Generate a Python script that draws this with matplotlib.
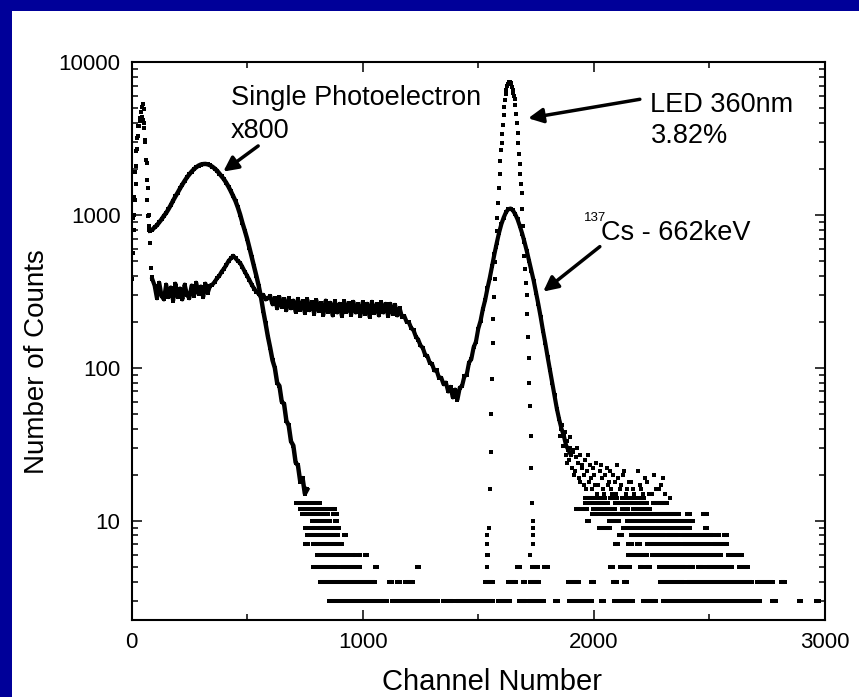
import numpy as np
import matplotlib.pyplot as plt
from matplotlib.patches import Rectangle
from matplotlib.ticker import LogLocator, FixedLocator, NullFormatter

plt.rcParams['font.family'] = ['Liberation Sans', 'DejaVu Sans']

# ----------------------------
# LED run: pedestal spike + single photoelectron bump (x800)
# ----------------------------
spike_ch = [5, 10, 15, 20, 25, 30, 35, 40, 45, 50, 53, 56, 59, 62, 65, 68, 71, 74, 77]
spike_counts = [950, 1300, 1900, 2600, 3200, 3800, 4300, 4700, 5100, 5300, 4900, 4000, 3100,
                2300, 1700, 1250, 980, 850, 800]

spe_ch = [80, 90, 100, 110, 120, 130, 140, 150, 160, 170, 180, 190, 200, 210, 220, 230, 240,
          250, 260, 270, 280, 290, 300, 310, 320, 330, 340, 350, 360, 370, 380, 390, 400,
          410, 420, 430, 440, 450, 460, 470, 480, 490, 500, 510, 520, 530, 540, 550, 560,
          570, 580, 590, 600, 610, 620, 630, 640, 650, 660, 670, 680, 690, 700, 710, 720,
          730, 740, 750, 760]
spe_counts = [790, 800, 830, 855, 895, 935, 985, 1030, 1090, 1160, 1240, 1320, 1400, 1490, 1580,
              1670, 1760, 1840, 1920, 1990, 2050, 2100, 2135, 2150, 2155, 2140, 2110, 2065,
              2010, 1945, 1865, 1785, 1710, 1620, 1525, 1425, 1325, 1230, 1120, 1005, 885,
              790, 700, 610, 530, 460, 400, 345, 290, 235, 195, 160, 135, 112, 100, 80, 76,
              60, 58, 45, 42, 33, 31, 24, 23, 18, 19, 15, 16]

# ----------------------------
# LED 360nm peak
# ----------------------------
led_ch = [1538, 1542, 1546, 1550, 1553, 1556, 1559, 1562, 1565, 1568, 1571, 1574, 1577, 1580,
          1583, 1586, 1589, 1592, 1595, 1598, 1601, 1604, 1607, 1610, 1613, 1616, 1619, 1622,
          1625, 1628, 1631, 1634, 1637, 1640, 1643, 1646, 1649, 1652, 1655, 1658, 1661, 1664,
          1667, 1670, 1673, 1676, 1679, 1682, 1685, 1688, 1691, 1694, 1697, 1700, 1703, 1706,
          1709, 1712, 1715, 1718, 1721, 1724, 1727, 1730, 1733, 1736]
led_counts = [4, 6, 9, 16, 28, 50, 85, 145, 210, 290, 380, 490, 620, 780, 960, 1200, 1500, 1850,
              2250, 2650, 2950, 3400, 3900, 4500, 5100, 5650, 6150, 6600, 6950, 7200, 7350, 7400,
              7400, 7300, 7150, 6900, 6600, 6300, 6000, 5700, 5200, 4600, 4000, 3450, 2950, 2500,
              2150, 1850, 1600, 1390, 1100, 850, 680, 540, 440, 360, 300, 225, 160, 115, 80, 56,
              36, 22, 13, 8]

# ----------------------------
# 137Cs - 662keV spectrum
# ----------------------------
cs_low_ch = [3, 6, 9, 12, 15, 18, 21, 24, 28, 32, 36, 40, 45, 50, 55, 60, 65, 70, 75, 80, 84, 88]
cs_low_counts = [380, 560, 800, 1000, 1250, 1600, 2100, 2700, 3300, 3800, 4100, 4300, 4400, 4200,
                 3700, 3000, 2200, 1500, 1000, 650, 450, 390]

cs_ch = np.arange(90, 1910, 10)
cs_counts = [380,
             345, 285, 360, 295, 280, 350, 290, 335, 275, 355, 290, 330, 280, 350, 300, 285,   # 100-250
             345, 295, 360, 305, 340, 290, 355, 310, 345,                                      # 260-340
             350, 365, 385, 400, 425, 445, 470, 500, 520, 540, 520, 500, 485, 455, 425, 400,   # 350-500
             375, 350, 330, 315, 305, 290, 300, 280, 285,                                      # 510-590
             295, 260, 285, 245, 290, 250, 280, 238, 285, 245, 275, 232, 282, 240, 272, 228,   # 600-750
             280, 238, 268, 226, 276, 235, 265, 222, 275, 232, 266, 220, 272, 230, 262, 218,   # 760-910
             272, 232, 264, 222, 270, 230, 260, 218, 268, 226, 262, 215, 270, 228, 260, 220,   # 920-1070
             268, 230, 262, 218, 262, 226, 258, 220, 245, 215, 218, 200, 198, 182, 176, 160,   # 1080-1230
             153, 140, 135, 122, 119, 108, 106, 96, 96, 86, 86, 78, 80, 70, 75, 64,            # 1240-1390
             72, 62, 74, 76, 88, 90, 108, 114, 136, 148, 180, 203, 242, 278, 332, 388,         # 1400-1550
             465, 555, 655, 765, 870, 960, 1040, 1090, 1100, 1070, 1010, 935, 845, 755, 665, 580,  # 1560-1710
             500, 430, 370, 310, 260, 215, 175, 145, 118, 97, 80, 66, 54, 46, 40, 36,          # 1720-1870
             31, 29, 27]

# scattered high-channel tail of the Cs spectrum
tail_ch = [1855, 1862, 1868, 1875, 1880, 1886, 1892, 1898, 1905, 1910, 1916, 1922, 1930, 1936,
           1942, 1950, 1956, 1962, 1970, 1978, 1985, 1992, 2000, 2010, 2018, 2025, 2035, 2045,
           2055, 2065, 2075, 2085, 2095, 2105, 2118, 2130, 2145, 2160, 2175, 2190, 2205, 2220,
           2240, 2260, 2280, 2300,
           1885, 1895, 1908, 1918, 1928, 1940, 1948, 1958, 1968, 1975, 1988, 1996, 2005, 2015,
           2030, 2040, 2050, 2060, 2070, 2080, 2090, 2100, 2112, 2125, 2138, 2150, 2168, 2182,
           2198, 2212, 2230, 2250, 2270, 2290, 2310, 2330]
tail_counts = [36, 42, 31, 38, 27, 33, 25, 30, 22, 28, 20, 26, 24, 19, 27, 22, 17, 25, 21, 18,
               23, 16, 20, 24, 17, 21, 19, 15, 22, 18, 16, 20, 15, 19, 17, 21, 16, 18, 15, 21,
               16, 19, 15, 20, 16, 19,
               24, 35, 29, 21, 30, 18, 23, 20, 16, 27, 19, 22, 17, 15, 23, 16, 20, 17, 21, 15,
               18, 23, 16, 20, 15, 18, 16, 14, 17, 15, 18, 15, 16, 17, 15, 14]

# runs of consecutive channels holding the same low count (count, first, last channel)
run_count = [3] * 16 + [4] * 16 + [5] * 18 + [6] * 9 + [7] * 10 + [8] * 10 + [9] * 7 \
    + [10] * 7 + [11] * 6 + [12] * 8 + [13] * 5 + [14] * 5
run_first = [853, 1125, 1349, 1403, 1587, 1678, 1716, 1832, 1894, 2031, 2086, 2211, 2299, 2769, 2887, 2962,
             815, 1115, 1147, 1183, 1529, 1630, 1695, 1724, 1889, 1986, 2084, 2131, 2286, 2401, 2705, 2809,
             786, 906, 1053, 1233, 1536, 1666, 1731, 1784, 2070, 2113, 2142, 2200, 2225, 2283, 2408, 2452, 2490, 2629,
             801, 959, 981, 1010, 1539, 1724, 2149, 2250, 2582,
             750, 783, 1539, 1735, 2091, 2149, 2185, 2228, 2384, 2516,
             758, 919, 1536, 1735, 2107, 2160, 2315, 2382, 2531, 2562,
             750, 779, 808, 1735, 2021, 2128, 2480,
             779, 880, 1735, 1969, 2067, 2142, 2271,
             736, 873, 1990, 2034, 2401, 2473,
             729, 866, 1925, 1954, 1998, 2048, 2120, 2171,
             711, 1961, 2091, 2196, 2257,
             1961, 2010, 2070, 2120, 2195]
run_last = [1104, 1327, 1392, 1565, 1637, 1706, 1784, 1846, 1990, 2043, 2169, 2268, 2718, 2790, 2896, 2975,
            1053, 1129, 1161, 1216, 1565, 1663, 1702, 1764, 1937, 2001, 2099, 2145, 2390, 2683, 2773, 2826,
            887, 988, 1060, 1245, 1536, 1680, 1760, 1803, 2084, 2128, 2156, 2211, 2243, 2394, 2430, 2473, 2597, 2665,
            945, 967, 988, 1020, 1539, 1724, 2228, 2550, 2640,
            765, 909, 1539, 1735, 2106, 2163, 2200, 2373, 2502, 2574,
            895, 928, 1536, 1735, 2120, 2307, 2365, 2516, 2541, 2574,
            765, 794, 899, 1735, 2070, 2416, 2488,
            859, 890, 1735, 1981, 2110, 2264, 2430,
            852, 887, 2019, 2368, 2416, 2488,
            852, 880, 1940, 1969, 2041, 2091, 2149, 2243,
            815, 2062, 2192, 2232, 2315,
            2000, 2050, 2100, 2170, 2215]

# ----------------------------
# Plot
# ----------------------------
W, H = 859, 697
fig = plt.figure(figsize=(W / 100, H / 100), dpi=100)
fig.patch.set_facecolor('#000099')
# white slide panel, blue strip left and top
fig.add_artist(Rectangle((12 / W, 0), 1, 1 - 11 / H, transform=fig.transFigure,
                         facecolor='white', edgecolor='none', zorder=-1))

ax = fig.add_axes([131.5 / W, 1 - 620 / H, (825 - 131.5) / W, (620 - 62) / H])

mk = dict(marker='s', linestyle='none', color='black', markersize=2.9, markeredgewidth=0)
# dense curves: channels sit closer than one marker, so they read as a thick band
ax.plot(spe_ch, spe_counts, color='black', lw=3.2)
ax.plot(cs_ch, cs_counts, color='black', lw=3.0)
ax.plot(spe_ch, spe_counts, **mk)
ax.plot(cs_ch, cs_counts, **mk)
ax.plot(spike_ch, spike_counts, **mk)
ax.plot(led_ch, led_counts, **mk)
ax.plot(cs_low_ch, cs_low_counts, **mk)
ax.plot(tail_ch, tail_counts, **mk)
ax.hlines(run_count, run_first, run_last, colors='black', linewidth=2.9)
ax.plot(run_first, run_count, **mk)
ax.plot(run_last, run_count, **mk)

ax.set_yscale('log')
ax.set_xlim(0, 3000)
ax.set_ylim(2.24, 10000)

ax.xaxis.set_major_locator(FixedLocator([0, 1000, 2000, 3000]))
ax.xaxis.set_minor_locator(FixedLocator([500, 1500, 2500]))
ax.yaxis.set_major_locator(FixedLocator([10, 100, 1000, 10000]))
ax.yaxis.set_minor_locator(LogLocator(base=10, subs=np.arange(2, 10)))
ax.yaxis.set_minor_formatter(NullFormatter())
ax.set_yticklabels(['10', '100', '1000', '10000'])

ax.tick_params(which='both', direction='in', top=True, right=True, width=1.1, labelsize=16)
ax.tick_params(which='major', length=7)
ax.tick_params(which='minor', length=4.3)
ax.tick_params(axis='x', pad=9)
ax.tick_params(axis='y', pad=8)
for s in ax.spines.values():
    s.set_linewidth(1.5)

fig.text(492 / W, 1 / H, 'Channel Number', ha='center', va='bottom', fontsize=21)
fig.text(37 / W, 1 - 362 / H, 'Number of Counts', ha='center', va='center', rotation=90, fontsize=20)

# annotations
tkw = dict(fontsize=19.5, va='baseline', ha='left')
ax.text(430, 5236, 'Single Photoelectron', **tkw)
ax.text(430, 3172, 'x800', **tkw)
ax.text(2243, 4713, 'LED 360nm', **tkw)
ax.text(2247, 2955, '3.82%', **tkw)
ax.text(1957, 914, '137', fontsize=9.5, va='baseline', ha='left')
ax.text(2031, 686, 'Cs - 662keV', **tkw)

akw = dict(arrowstyle='-|>', lw=2.5, color='black', mutation_scale=22, shrinkA=0, shrinkB=0)
ax.annotate('', xy=(397, 1919), xytext=(548, 2825), arrowprops=akw)
ax.annotate('', xy=(1716, 4285), xytext=(2199, 5703), arrowprops=akw)
ax.annotate('', xy=(1781, 315), xytext=(2026, 620), arrowprops=akw)

fig.savefig('out.png', dpi=100, facecolor=fig.get_facecolor())
print('saved out.png')
